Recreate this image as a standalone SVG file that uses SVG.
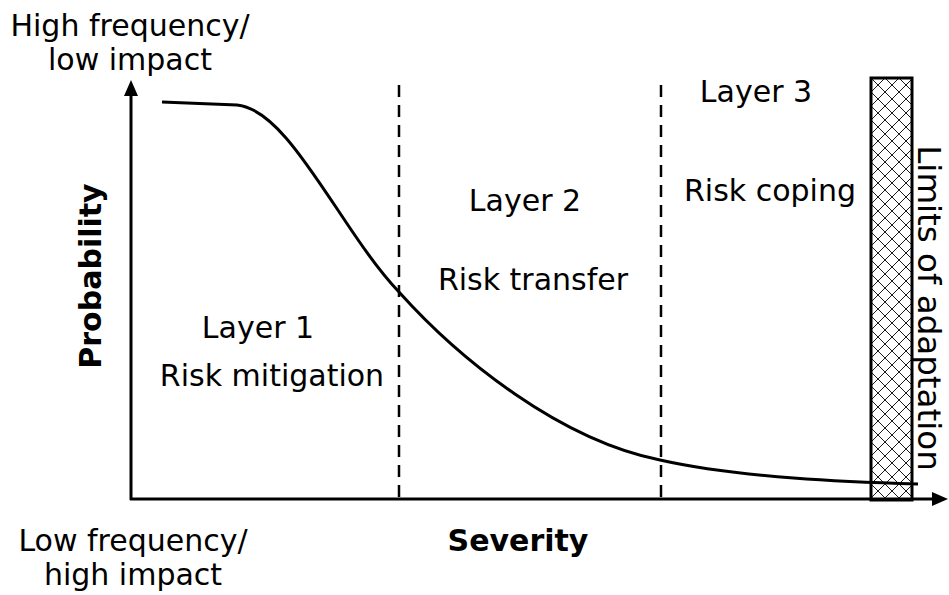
<svg xmlns="http://www.w3.org/2000/svg" width="949" height="595" viewBox="0 0 949 595">
<style>
text{font-family:"DejaVu Sans",sans-serif;font-size:30px;fill:#000}
.b{font-weight:bold}
.ax{stroke:#000;stroke-width:3;fill:none}
.dash{stroke:#000;stroke-width:2.5;stroke-dasharray:12,8;fill:none}
</style>
<defs>
<marker id="arr" markerWidth="16" markerHeight="16" refX="2" refY="7" orient="auto" markerUnits="userSpaceOnUse" viewBox="0 0 16 14"><path d="M0,0 L16,7 L0,14 z" fill="#000"/></marker>
<pattern id="hatch" width="14" height="14" patternUnits="userSpaceOnUse" x="871" y="78">
<path d="M0,0 L14,14 M14,0 L0,14" stroke="#000" stroke-width="0.9"/>
</pattern>
</defs>
<g id="connectors">
<path class="ax" d="M131,500 L131,94" marker-end="url(#arr)"/>
<path class="ax" d="M130,499 L934,499" marker-end="url(#arr)"/>
<path class="dash" d="M399,85 L399,500"/>
<path class="dash" d="M661,85 L661,500"/>
</g>
<g id="limits">
<rect x="871" y="78" width="41" height="422" fill="url(#hatch)" stroke="#000" stroke-width="3"/>
<text transform="translate(918,308) rotate(90)" text-anchor="middle" style="font-size:32.5px">Limits of adaptation</text>
</g>
<g id="curve">
<path d="M162,102 L237,105 C290,110 340,230 399,292 C460,360 560,440 660,460 C740,478 850,482 918,484" stroke="#000" stroke-width="3" fill="none"/>
</g>
<g id="labels">
<text x="130" y="36" text-anchor="middle">High frequency/</text>
<text x="130" y="70" text-anchor="middle">low impact</text>
<text x="133" y="551" text-anchor="middle">Low frequency/</text>
<text x="133" y="585" text-anchor="middle">high impact</text>
<text class="b" x="518" y="551" text-anchor="middle">Severity</text>
<text class="b" transform="translate(101,276) rotate(-90)" text-anchor="middle">Probability</text>
</g>
<g id="layer1">
<text x="258" y="338" text-anchor="middle">Layer 1</text>
<text x="272" y="386" text-anchor="middle">Risk mitigation</text>
</g>
<g id="layer2">
<text x="525" y="211" text-anchor="middle">Layer 2</text>
<text x="533" y="290" text-anchor="middle">Risk transfer</text>
</g>
<g id="layer3">
<text x="756" y="102" text-anchor="middle">Layer 3</text>
<text x="770" y="201" text-anchor="middle">Risk coping</text>
</g>
</svg>
